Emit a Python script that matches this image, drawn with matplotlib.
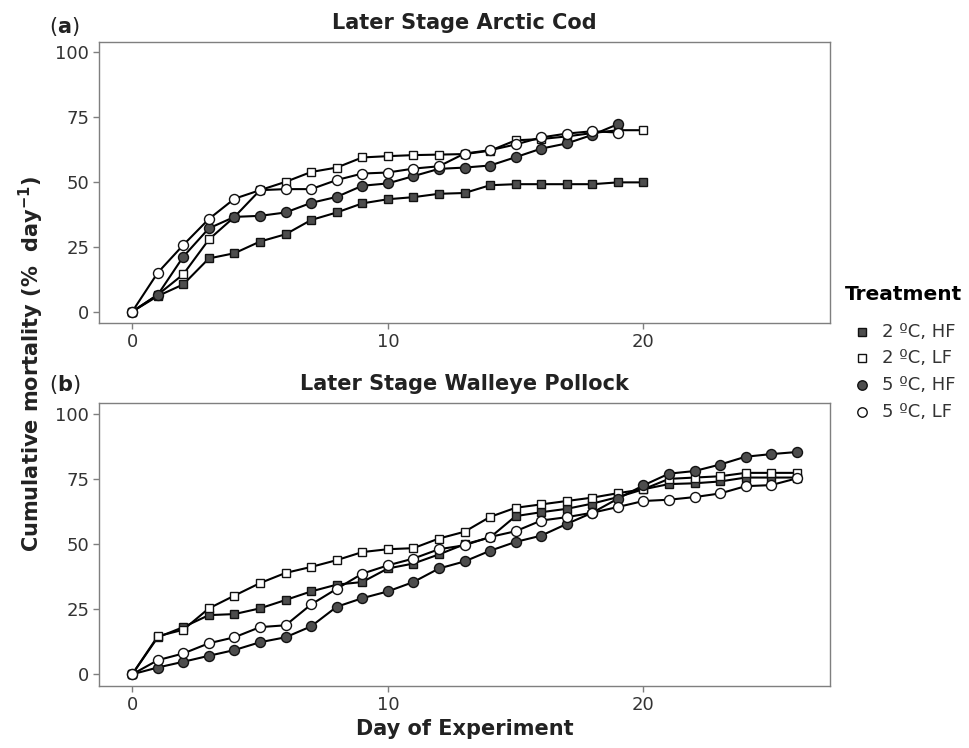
import numpy as np
import matplotlib
matplotlib.use('Agg')
import matplotlib.pyplot as plt
from matplotlib.lines import Line2D

plt.rcParams['font.family'] = ['DejaVu Sans']

######## DATA ########

COD_DAYS = list(range(0, 21))
COD_2HF = [0, 6, 10.5, 20.5, 22.5, 27, 29.8, 35.3, 38.2, 41.7, 43.3, 44.1, 45.4, 45.7, 48.7,
           49.1, 49.1, 49.1, 49.1, 49.8, 49.8]
COD_2LF = [0, 6.5, 14.4, 27.8, 36.5, 46.8, 50, 53.8, 55.5, 59.4, 59.9, 60.3, 60.5, 60.7, 62,
           66, 66.5, 67.5, 68.8, 69.9, 69.9]
COD_5HF = [0, 6.5, 21.2, 32.1, 36.5, 36.9, 38.2, 41.9, 44.2, 48.5, 49.4, 52.2, 55, 55.5, 56.3,
           59.5, 62.8, 64.8, 68.1, 72.2]
COD_5LF = [0, 15, 25.7, 35.7, 43.5, 46.8, 47.2, 47.2, 50.7, 53.2, 53.6, 55.1, 56, 60.9, 62.2,
           64.4, 67.1, 68.6, 69.5, 69]

POL_DAYS = list(range(0, 27))
POL_2HF = [0, 14.2, 18.1, 22.7, 23.1, 25.3, 28.5, 31.8, 34.4, 35.4, 40.6, 42.5, 46, 49.9, 52.5,
           60.7, 62.2, 63.5, 65.5, 68, 71, 73, 73.3, 74, 75.5, 75.5, 75.5]
POL_2LF = [0, 14.6, 17.1, 25.3, 30.2, 35, 38.9, 41.2, 43.8, 46.9, 48, 48.4, 52.1, 54.7, 60.4,
           63.9, 65.2, 66.5, 67.8, 69.5, 71, 75, 75.5, 76, 77.3, 77.3, 77.3]
POL_5HF = [0, 2.6, 4.8, 7.1, 9.3, 12.3, 14.2, 18.4, 25.9, 29.2, 31.8, 35.4, 40.6, 43.3, 47.4,
           50.8, 53.2, 57.7, 62, 67.4, 72.5, 77, 78, 80.5, 83.5, 84.5, 85.3]
POL_5LF = [0, 5.4, 8, 11.9, 14.2, 18.1, 18.8, 26.8, 32.8, 38.6, 41.8, 44.4, 48, 49.5, 52.7,
           54.9, 59, 60.3, 62, 64.2, 66.5, 67, 68, 69.4, 72.2, 72.6, 75.2]

TREATMENTS = ['2 ºC, HF', '2 ºC, LF', '5 ºC, HF', '5 ºC, LF']
MARKERS = ['s', 's', 'o', 'o']
FILLS = ['#4d4d4d', 'white', '#4d4d4d', 'white']

X_TICKS = [0, 10, 20]
Y_TICKS = [0, 25, 50, 75, 100]

FRAME = '#7f7f7f'
TXT = '#333333'
DARK = '#222222'


def draw_panel(ax, series):
    # lines first, points on top (like geom_line + geom_point)
    for days, vals in series:
        ax.plot(days[:len(vals)], vals, color='black', lw=1.5, zorder=2)
    for (days, vals), m, fc in zip(series, MARKERS, FILLS):
        ms = 6.3 if m == 's' else 7.2
        ax.plot(days[:len(vals)], vals, ls='none', marker=m, ms=ms, mfc=fc,
                mec='#111111', mew=1.0, zorder=3)
    ax.set_xlim(-1.3, 27.3)
    ax.set_ylim(-4.5, 104)
    ax.set_xticks(X_TICKS)
    ax.set_yticks(Y_TICKS)
    ax.tick_params(direction='out', length=4, width=1, color=FRAME,
                   labelsize=13, labelcolor=TXT, pad=3)
    for sp in ax.spines.values():
        sp.set_color(FRAME)
        sp.set_linewidth(1.0)


fig = plt.figure(figsize=(9.69, 7.48), dpi=100)
W, H = 969.0, 748.0
ax_a = fig.add_axes([99 / W, 1 - 323.3 / H, (830 - 99) / W, (323.3 - 41.7) / H])
ax_b = fig.add_axes([99 / W, 1 - 686 / H, (830 - 99) / W, (686 - 403.3) / H])

draw_panel(ax_a, [(COD_DAYS, COD_2HF), (COD_DAYS, COD_2LF), (COD_DAYS, COD_5HF), (COD_DAYS, COD_5LF)])
draw_panel(ax_b, [(POL_DAYS, POL_2HF), (POL_DAYS, POL_2LF), (POL_DAYS, POL_5HF), (POL_DAYS, POL_5LF)])

# titles and panel tags
fig.text(464.5 / W, 1 - 23 / H, 'Later Stage Arctic Cod', ha='center', va='center',
         fontsize=15, fontweight='bold', color=DARK)
fig.text(464.5 / W, 1 - 384 / H, 'Later Stage Walleye Pollock', ha='center', va='center',
         fontsize=15, fontweight='bold', color=DARK)
fig.text(49 / W, 1 - 26 / H, r'($\mathbf{a}$)', ha='left', va='center', fontsize=15, color=DARK)
fig.text(49 / W, 1 - 385 / H, r'($\mathbf{b}$)', ha='left', va='center', fontsize=15, color=DARK)

fig.text(31 / W, 1 - 364 / H, r'Cumulative mortality (%  day$^{\mathbf{-1}}$)', rotation=90,
         ha='center', va='center', fontsize=15, fontweight='bold', color=DARK)
fig.text(464.5 / W, 1 - 729 / H, 'Day of Experiment', ha='center', va='center',
         fontsize=15, fontweight='bold', color=DARK)

# legend, laid out by hand like the ggplot guide
fig.text(845 / W, 1 - 295 / H, 'Treatment', ha='left', va='center',
         fontsize=14.5, fontweight='bold', color='black')
for i, (lab, m, fc) in enumerate(zip(TREATMENTS, MARKERS, FILLS)):
    y = 1 - (331.7 + i * 26.7) / H
    fig.add_artist(Line2D([862 / W], [y], transform=fig.transFigure, ls='none', marker=m,
                          ms=6 if m == 's' else 6.8, mfc=fc, mec='#111111', mew=1.0))
    fig.text(882 / W, y, lab, ha='left', va='center', fontsize=13, color=TXT)

fig.savefig('out.png', dpi=100)
